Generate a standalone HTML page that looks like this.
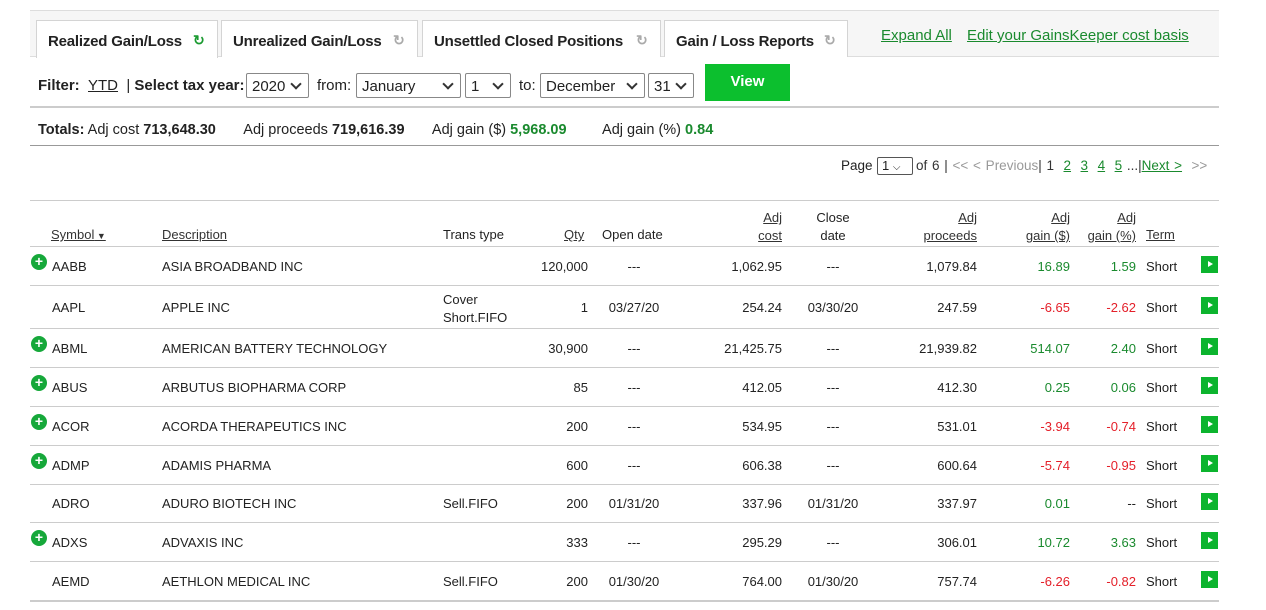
<!DOCTYPE html>
<html><head><meta charset="utf-8"><style>
*{margin:0;padding:0;box-sizing:border-box}
body{width:1266px;height:610px;background:#fff;font-family:"Liberation Sans",sans-serif;color:#222;position:relative;overflow:hidden;font-size:13px}
.a{position:absolute;white-space:nowrap}
.tab{position:absolute;top:20px;height:37px;border:1px solid #d4d4d4;border-bottom:none;background:#fff;font-weight:bold;font-size:15px;padding:12px 0 0 11px;letter-spacing:-0.2px}
.ic{position:absolute;top:11px;font-size:14px;color:#aaa}
.sel{position:absolute;top:73px;height:25px;border:1px solid #888;border-radius:2px;font-size:15px;padding:4px 5px;background:#fff}
.sel:after{content:"";position:absolute;right:8px;top:6px;width:6px;height:6px;border-right:2px solid #333;border-bottom:2px solid #333;transform:rotate(45deg)}
.g{color:#1a8a2e}.r{color:#e4202a}
.lnk{color:#1a8a2e;text-decoration:underline}
.hl{position:absolute;left:30px;width:1189px;height:2px;background:#ccc}
.rl{position:absolute;left:30px;width:1189px;height:1px;background:#ccc}
.plus{position:absolute;left:31px;width:16px;height:16px;border-radius:50%;background:#16a83a;color:#fff;font-weight:bold;font-size:14px;line-height:15px;text-align:center}
.arr{position:absolute;left:1201px;width:17px;height:17px;background:#0cb42e}
.arr:after{content:"";position:absolute;left:7px;top:5px;border-left:5px solid #fff;border-top:3.5px solid transparent;border-bottom:3.5px solid transparent}
.rt{text-align:right}
.h{color:#333;text-decoration:underline}
</style></head><body>
<div class="a" style="left:30px;top:10px;width:1189px;height:47px;background:#f6f6f6;border-top:1px solid #ddd;border-bottom:1px solid #ddd"></div>
<div class="tab" style="left:36px;width:182px;height:38px">Realized Gain/Loss<span class="ic" style="left:156px;color:#1a9a30">&#x21bb;</span></div>
<div class="tab" style="left:221px;width:197px">Unrealized Gain/Loss<span class="ic" style="left:171px">&#x21bb;</span></div>
<div class="tab" style="left:422px;width:239px">Unsettled Closed Positions<span class="ic" style="left:213px">&#x21bb;</span></div>
<div class="tab" style="left:664px;width:184px">Gain / Loss Reports<span class="ic" style="left:159px">&#x21bb;</span></div>
<div class="a lnk" style="left:881px;top:27px;font-size:15px">Expand All</div>
<div class="a lnk" style="left:967px;top:27px;font-size:15px">Edit your GainsKeeper cost basis</div>

<div class="a" style="left:38px;top:77px;font-size:15px"><b>Filter:</b> &nbsp;<span style="text-decoration:underline">YTD</span> &nbsp;| <b>Select tax year:</b></div>
<div class="sel" style="left:246px;width:63px">2020</div>
<div class="a" style="left:317px;top:77px;font-size:15px">from:</div>
<div class="sel" style="left:356px;width:105px">January</div>
<div class="sel" style="left:465px;width:46px">1</div>
<div class="a" style="left:519px;top:77px;font-size:15px">to:</div>
<div class="sel" style="left:540px;width:105px">December</div>
<div class="sel" style="left:648px;width:46px">31</div>
<div class="a" style="left:705px;top:64px;width:85px;height:37px;background:#0cbf2e;color:#fff;font-weight:bold;font-size:15px;text-align:center;line-height:35px">View</div>
<div class="hl" style="top:106px"></div>
<div class="a" style="left:38px;top:122px;font-size:14.5px"><b>Totals:</b> Adj cost <b>713,648.30</b> &nbsp; &nbsp; &nbsp; Adj proceeds <b>719,616.39</b> &nbsp; &nbsp; &nbsp; Adj gain ($) <b class="g">5,968.09</b> &nbsp; &nbsp; &nbsp; &nbsp; Adj gain (%) <b class="g">0.84</b></div>
<div class="hl" style="top:145px;background:#999;height:1px"></div>

<div class="a" style="left:841px;top:158px;font-size:13.5px">Page</div>
<div class="a" style="left:877px;top:157px;width:36px;height:18px;border:1px solid #555;border-radius:2px;font-size:13px;padding:0 4px">1 <span style="font-size:10px">&#x2335;</span></div>
<div class="a" style="left:916px;top:158px;font-size:13.5px;color:#333;word-spacing:1px">of 6 | <span style="color:#999">&lt;&lt; &lt; Previous</span>| 1 &nbsp;<span class="lnk">2</span> &nbsp;<span class="lnk">3</span> &nbsp;<span class="lnk">4</span> &nbsp;<span class="lnk">5</span> ...|<span class="lnk">Next &gt;</span> &nbsp;<span style="color:#999">&gt;&gt;</span></div>

<div class="rl" style="top:200px"></div>
<div class="a h" style="left:51px;top:227px">Symbol<span style="text-decoration:none;font-size:9px"> &#9660;</span></div>
<div class="a h" style="left:162px;top:227px">Description</div>
<div class="a" style="left:443px;top:227px">Trans type</div>
<div class="a h" style="left:564px;top:227px">Qty</div>
<div class="a" style="left:602px;top:227px">Open date</div>
<div class="a h rt" style="left:700px;width:82px;top:209px;line-height:18px">Adj<br>cost</div>
<div class="a" style="left:805px;width:56px;text-align:center;top:209px;line-height:18px">Close<br>date</div>
<div class="a h rt" style="left:880px;width:97px;top:209px;line-height:18px">Adj<br>proceeds</div>
<div class="a h rt" style="left:1000px;width:70px;top:209px;line-height:18px">Adj<br>gain ($)</div>
<div class="a h rt" style="left:1070px;width:66px;top:209px;line-height:18px">Adj<br>gain (%)</div>
<div class="a h" style="left:1146px;top:227px">Term</div>

<div id="rows"></div>
<script>
var d=[
[1,"AABB","ASIA BROADBAND INC","","120,000","---","1,062.95","---","1,079.84","16.89","1.59"],
[0,"AAPL","APPLE INC","Cover<br>Short.FIFO","1","03/27/20","254.24","03/30/20","247.59","-6.65","-2.62"],
[1,"ABML","AMERICAN BATTERY TECHNOLOGY","","30,900","---","21,425.75","---","21,939.82","514.07","2.40"],
[1,"ABUS","ARBUTUS BIOPHARMA CORP","","85","---","412.05","---","412.30","0.25","0.06"],
[1,"ACOR","ACORDA THERAPEUTICS INC","","200","---","534.95","---","531.01","-3.94","-0.74"],
[1,"ADMP","ADAMIS PHARMA","","600","---","606.38","---","600.64","-5.74","-0.95"],
[0,"ADRO","ADURO BIOTECH INC","Sell.FIFO","200","01/31/20","337.96","01/31/20","337.97","0.01","--"],
[1,"ADXS","ADVAXIS INC","","333","---","295.29","---","306.01","10.72","3.63"],
[0,"AEMD","AETHLON MEDICAL INC","Sell.FIFO","200","01/30/20","764.00","01/30/20","757.74","-6.26","-0.82"]];
var b=[246,285,328,367,406,445,484,522,561,600],h="";
for(var i=0;i<d.length;i++){var r=d[i],c=(b[i]+b[i+1])/2,t=c-7;
h+='<div class="rl" style="top:'+b[i]+'px"></div>';
if(r[0])h+='<div class="plus" style="top:'+(c-12)+'px">+</div>';
h+='<div class="a" style="left:52px;top:'+t+'px">'+r[1]+'</div><div class="a" style="left:162px;top:'+t+'px">'+r[2]+'</div>';
if(r[3].indexOf("<br>")>0)h+='<div class="a" style="left:443px;top:'+(c-16)+'px;line-height:18px">'+r[3]+'</div>';else h+='<div class="a" style="left:443px;top:'+t+'px">'+r[3]+'</div>';
h+='<div class="a rt" style="left:500px;width:88px;top:'+t+'px">'+r[4]+'</div>';
h+='<div class="a" style="left:596px;width:76px;text-align:center;top:'+t+'px">'+r[5]+'</div>';
h+='<div class="a rt" style="left:690px;width:92px;top:'+t+'px">'+r[6]+'</div>';
h+='<div class="a" style="left:795px;width:76px;text-align:center;top:'+t+'px">'+r[7]+'</div>';
h+='<div class="a rt" style="left:880px;width:97px;top:'+t+'px">'+r[8]+'</div>';
var cl=r[9][0]=="-"?"r":"g";
h+='<div class="a rt '+cl+'" style="left:1000px;width:70px;top:'+t+'px">'+r[9]+'</div>';
h+='<div class="a rt '+(r[10]=="--"?"":cl)+'" style="left:1070px;width:66px;top:'+t+'px">'+r[10]+'</div>';
h+='<div class="a" style="left:1146px;top:'+t+'px">Short</div><div class="arr" style="top:'+(c-10)+'px"></div>';}
h+='<div class="rl" style="top:600px;height:2px"></div>';
document.getElementById("rows").innerHTML=h;
</script>
</body></html>
